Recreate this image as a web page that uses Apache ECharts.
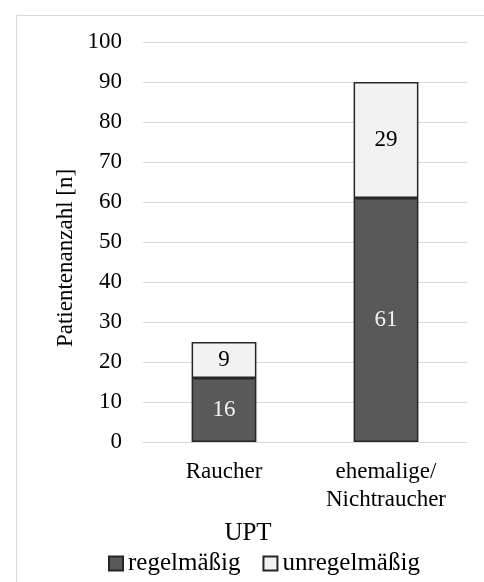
<!DOCTYPE html>
<html><head><meta charset="utf-8">
<script src="https://cdn.jsdelivr.net/npm/echarts@6/dist/echarts.min.js"></script>
<style>html,body{margin:0;padding:0;background:#fff}#c{width:484px;height:582px}</style>
</head><body><div id="c"></div>
<script>
const categories = ['Raucher', 'ehemalige/\nNichtraucher'];
const regelmaessig = [16, 61];
const unregelmaessig = [9, 29];
const seriesNames = ['regelmäßig', 'unregelmäßig'];
const yTitle = 'Patientenanzahl [n]';
const legendTitle = 'UPT';

const FONT = '"Liberation Serif", "Times New Roman", serif';
const chart = echarts.init(document.getElementById('c'));
chart.setOption({
  animation: false,
  backgroundColor: '#fff',
  textStyle: { fontFamily: FONT },
  graphic: [
    { type: 'rect', left: 14, top: 13, shape: { width: 480, height: 580 }, style: { fill: 'none', stroke: '#d9d9d9', lineWidth: 1 }, silent: true },
    { type: 'text', x: 66, y: 258, rotation: Math.PI / 2, style: { text: yTitle, font: '23px ' + FONT, fill: '#000', textAlign: 'center', textVerticalAlign: 'middle' } },
    { type: 'text', x: 248, y: 533, style: { text: legendTitle, font: '25px ' + FONT, fill: '#000', textAlign: 'center', textVerticalAlign: 'middle' } }
  ],
  grid: { left: 143, right: 17, top: 42, bottom: 140, containLabel: false },
  xAxis: {
    type: 'category', data: categories,
    axisLine: { show: true, lineStyle: { color: '#d9d9d9', width: 1 } },
    axisTick: { show: false },
    axisLabel: { color: '#000', fontSize: 23, fontFamily: FONT, margin: 16, lineHeight: 28 }
  },
  yAxis: {
    type: 'value', min: 0, max: 100, interval: 10,
    axisLine: { show: false }, axisTick: { show: false },
    splitLine: { lineStyle: { color: '#d9d9d9', width: 1 } },
    axisLabel: { color: '#000', fontSize: 23, fontFamily: FONT, margin: 21 }
  },
  legend: {
    left: 103, top: 546, itemWidth: 14, itemHeight: 14, itemGap: 22,
    icon: 'rect',
    textStyle: { color: '#000', fontSize: 25, fontFamily: FONT },
    data: seriesNames
  },
  series: [
    {
      name: seriesNames[0], type: 'bar', stack: 's', data: regelmaessig, barWidth: '40%',
      itemStyle: { color: '#595959', borderColor: '#262626', borderWidth: 1.5 },
      label: { show: true, position: 'inside', color: '#f2f2f2', fontSize: 23, fontFamily: FONT }
    },
    {
      name: seriesNames[1], type: 'bar', stack: 's', data: unregelmaessig, barWidth: '40%',
      itemStyle: { color: '#f2f2f2', borderColor: '#262626', borderWidth: 1.5 },
      label: { show: true, position: 'inside', color: '#000', fontSize: 23, fontFamily: FONT }
    }
  ]
});
</script></body></html>
